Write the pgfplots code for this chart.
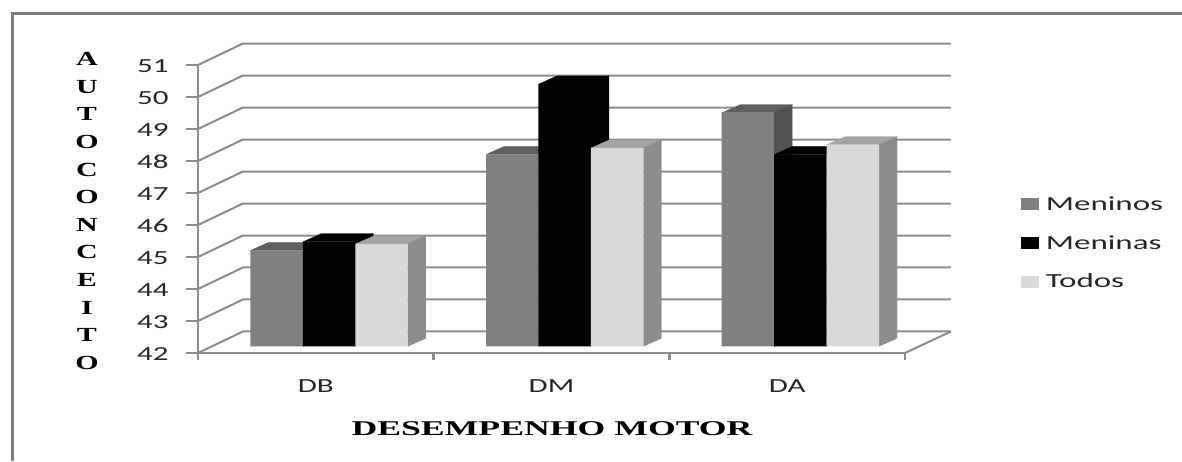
\documentclass[border=0pt]{standalone}
\usepackage{pgfplots}
\pgfplotsset{compat=1.18}
\usepackage{fontspec}
\newfontfamily\calfont[FakeStretch=1.55]{Carlito}
\newfontfamily\legfont[FakeStretch=1.65]{Carlito}
\newfontfamily\xtitlefont[FakeStretch=1.7]{Liberation Serif}
\newfontfamily\ytitlefont[FakeStretch=1.5]{Liberation Serif}
\definecolor{gridc}{HTML}{8C8C8C}
\definecolor{boyf}{HTML}{808080}
\definecolor{boyt}{HTML}{5F5F5F}
\definecolor{boys}{HTML}{525252}
\definecolor{allf}{HTML}{D9D9D9}
\definecolor{allt}{HTML}{A3A3A3}
\definecolor{alls}{HTML}{8C8C8C}
\newcommand\face[2]{\addplot[fill=#1,draw=#1,line width=0.3pt,forget plot] coordinates {#2};}
\newcommand\gridl[1]{\addplot[gridc,line width=2pt,forget plot] coordinates {#1};}
\begin{document}
\begin{tikzpicture}[x=1pt,y=1pt]
\useasboundingbox (0,0) rectangle (1182,461);
\fill[white] (0,0) rectangle (1182,461);
\draw[gridc!90!black,line width=3pt] (12,0) -- (12,447) -- (1182,447);
\begin{axis}[
  at={(198pt,108pt)},anchor=south west,
  scale only axis,width=707pt,height=288pt,
  xmin=-0.5,xmax=2.5,ymin=42,ymax=51,
  clip=false,
  axis x line*=bottom,axis y line*=left,
  axis line style={gridc,line width=2.8pt,-},
  xtick={0,1,2},xticklabels={DB,DM,DA},
  minor xtick={-0.5,0.5,1.5,2.5},
  ytick={42,43,44,45,46,47,48,49,50,51},
  tick align=outside,
  major tick length=12pt,minor tick length=7pt,
  major x tick style={draw=none},
  minor x tick style={gridc,line width=2.8pt},
  y tick style={gridc,line width=2pt},
  /pgf/number format/assume math mode=true,
  ticklabel style={font=\calfont\fontsize{20}{24}\selectfont,text=black!85},
  y tick label style={xshift=-14pt,yshift=-1pt},
  x tick label style={yshift=-11pt},
  xlabel={DESEMPENHO MOTOR},
  x label style={at={(axis description cs:0.5007,-0.264)},anchor=center,
    font=\xtitlefont\bfseries\fontsize{21}{24}\selectfont},
  ylabel={A\\U\\T\\O\\C\\O\\N\\C\\E\\I\\T\\O},
  y label style={at={(axis description cs:-0.157,0.493)},anchor=center,rotate=-90,align=center,
    font=\ytitlefont\bfseries\fontsize{20}{27.6}\selectfont},
]
\gridl{(-0.5,42)(-0.309,42.672)(2.695,42.672)}
\gridl{(-0.5,43)(-0.309,43.672)(2.695,43.672)}
\gridl{(-0.5,44)(-0.309,44.672)(2.695,44.672)}
\gridl{(-0.5,45)(-0.309,45.672)(2.695,45.672)}
\gridl{(-0.5,46)(-0.309,46.672)(2.695,46.672)}
\gridl{(-0.5,47)(-0.309,47.672)(2.695,47.672)}
\gridl{(-0.5,48)(-0.309,48.672)(2.695,48.672)}
\gridl{(-0.5,49)(-0.309,49.672)(2.695,49.672)}
\gridl{(-0.5,50)(-0.309,50.672)(2.695,50.672)}
\gridl{(-0.5,51)(-0.309,51.672)(2.695,51.672)}
\gridl{(2.5,42)(2.695,42.672)}
\end{axis}
\begin{axis}[
  at={(198pt,114.7pt)},anchor=south west,
  scale only axis,width=707pt,height=288pt,
  xmin=-0.5,xmax=2.5,ymin=42,ymax=51,
  hide axis,
  legend style={draw=none,fill=none,at={(1.164,0.3587)},anchor=west,
    inner sep=0pt,outer sep=0pt,
    font=\legfont\fontsize{20}{24}\selectfont,text=black!85,
    /tikz/row sep=19.5pt,/tikz/column sep=5pt,legend cell align=left},
  legend image code/.code={\fill[#1] (0pt,-6pt) rectangle (18pt,6pt);},
]
% Meninos
\face{boyt}{(-0.278,45)(-0.055,45)(0.0214,45.25)(-0.2016,45.25)}
\face{boyt}{(0.722,48)(0.945,48)(1.0214,48.25)(0.7984,48.25)}
\face{boyt}{(1.722,49.3)(1.945,49.3)(2.0214,49.55)(1.7984,49.55)}
\face{boys}{(-0.055,42)(0.0214,42.25)(0.0214,45.25)(-0.055,45)}
\face{boys}{(0.945,42)(1.0214,42.25)(1.0214,48.25)(0.945,48)}
\face{boys}{(1.945,42)(2.0214,42.25)(2.0214,49.55)(1.945,49.3)}
\addplot[ybar,bar width=0.2225,bar shift=-0.1665,fill=boyf,draw=none] coordinates {(0,45)(1,48)(2,49.3)};
\addlegendentry{Meninos}
% Meninas
\face{black}{(-0.055,45.27)(0.167,45.27)(0.2434,45.52)(0.0214,45.52)}
\face{black}{(0.945,50.2)(1.167,50.2)(1.2434,50.45)(1.0214,50.45)}
\face{black}{(1.945,48)(2.167,48)(2.2434,48.25)(2.0214,48.25)}
\face{black}{(0.167,42)(0.2434,42.25)(0.2434,45.52)(0.167,45.27)}
\face{black}{(1.167,42)(1.2434,42.25)(1.2434,50.45)(1.167,50.2)}
\face{black}{(2.167,42)(2.2434,42.25)(2.2434,48.25)(2.167,48)}
\addplot[ybar,bar width=0.2225,bar shift=0.056,fill=black,draw=none] coordinates {(0,45.27)(1,50.2)(2,48)};
\addlegendentry{Meninas}
% Todos
\face{allt}{(0.167,45.2)(0.39,45.2)(0.4664,45.45)(0.2434,45.45)}
\face{allt}{(1.167,48.2)(1.39,48.2)(1.4664,48.45)(1.2434,48.45)}
\face{allt}{(2.167,48.3)(2.39,48.3)(2.4664,48.55)(2.2434,48.55)}
\face{alls}{(0.39,42)(0.4664,42.25)(0.4664,45.45)(0.39,45.2)}
\face{alls}{(1.39,42)(1.4664,42.25)(1.4664,48.45)(1.39,48.2)}
\face{alls}{(2.39,42)(2.4664,42.25)(2.4664,48.55)(2.39,48.3)}
\addplot[ybar,bar width=0.2225,bar shift=0.2785,fill=allf,draw=none] coordinates {(0,45.2)(1,48.2)(2,48.3)};
\addlegendentry{Todos}
\end{axis}
\end{tikzpicture}
\end{document}
